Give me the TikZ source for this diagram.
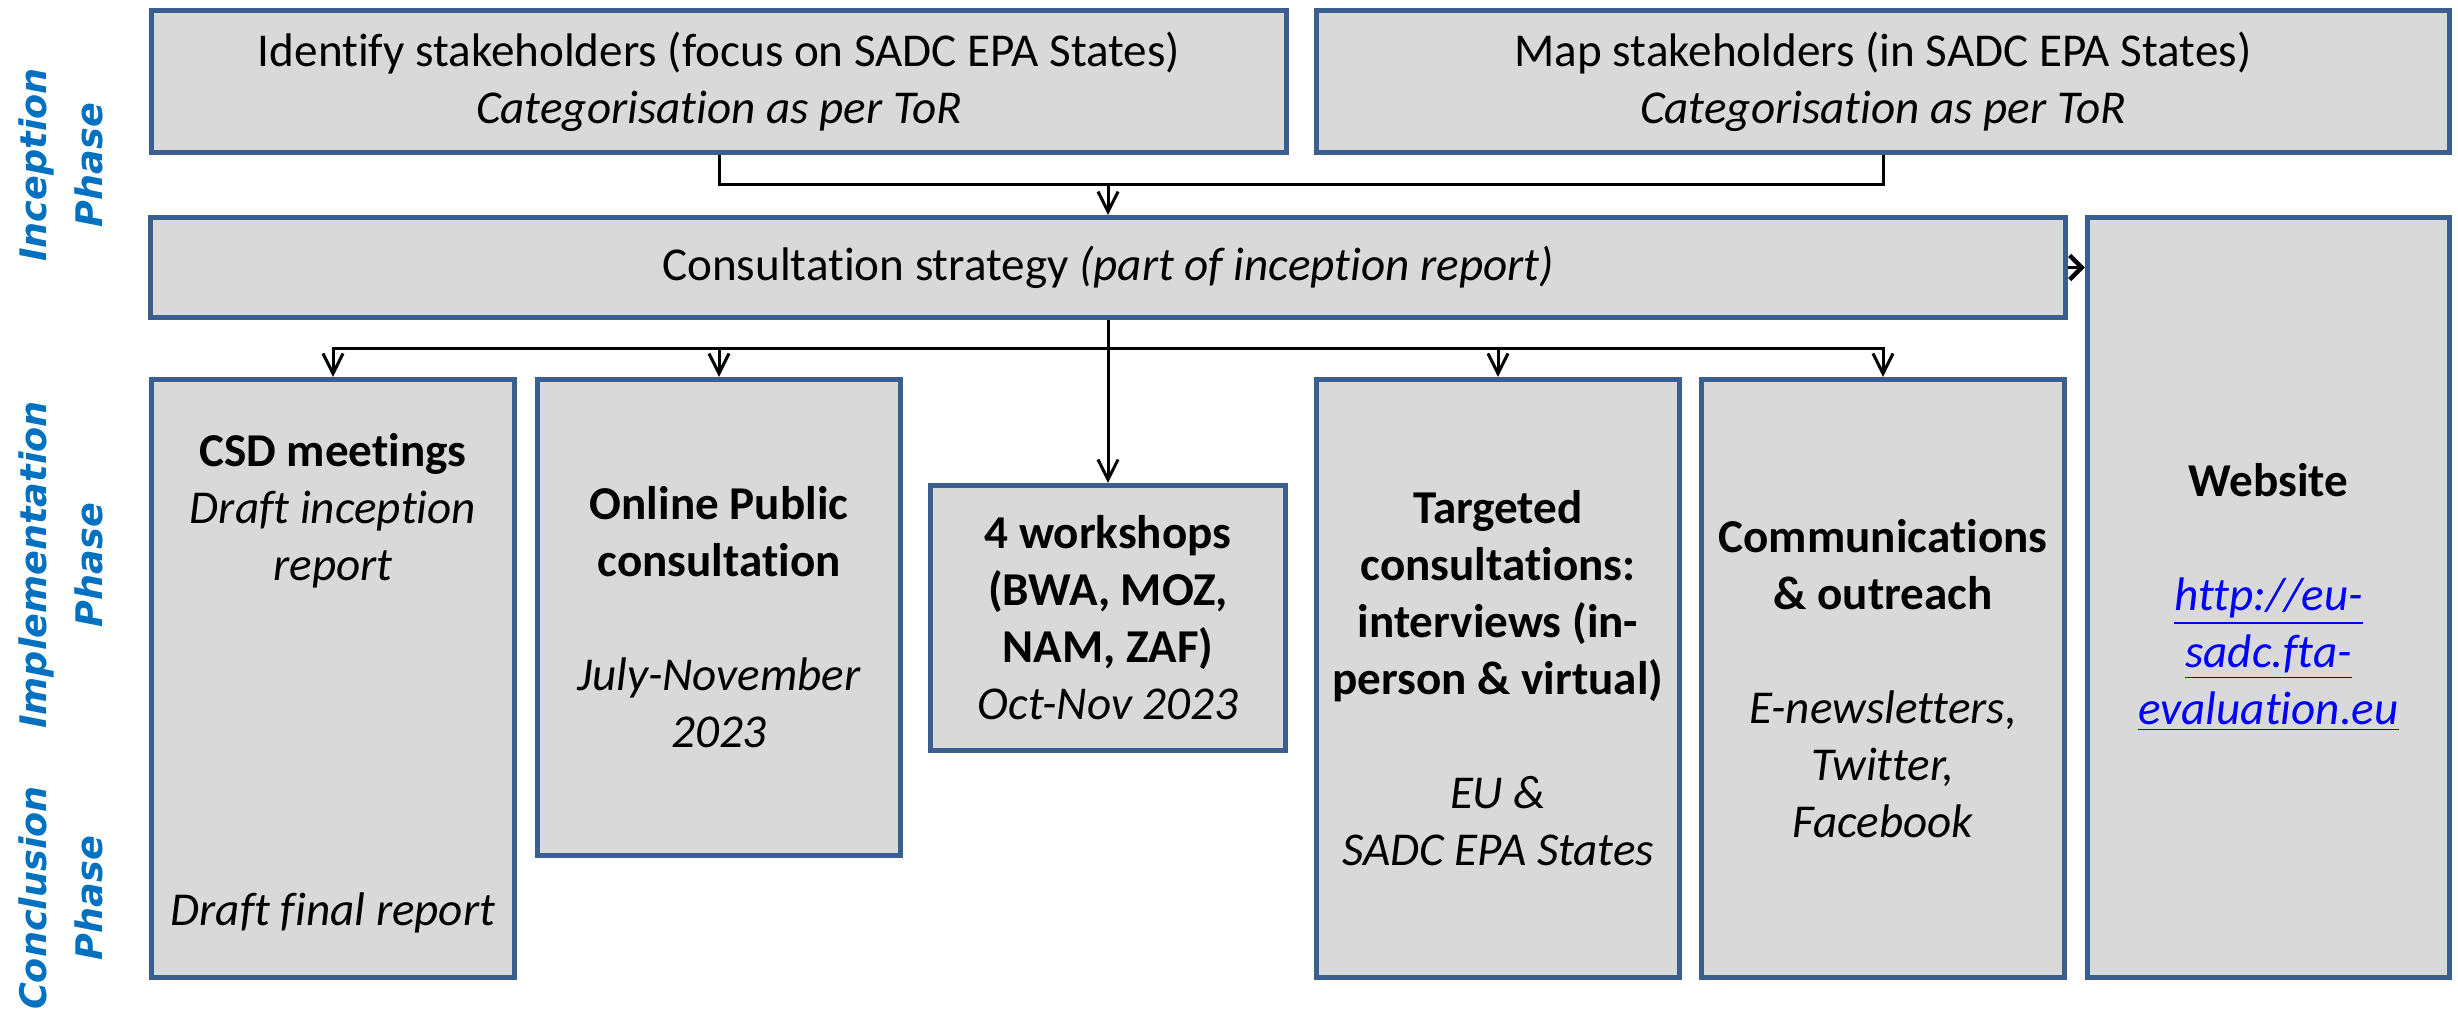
\documentclass[tikz,border=0pt]{standalone}
\usepackage{fontspec}
\setmainfont{Carlito}[Ligatures=NoCommon]
\newfontfamily\phasefont{DejaVu Sans}
\usetikzlibrary{arrows.meta}
\definecolor{boxfill}{HTML}{D9D9D9}
\definecolor{boxline}{HTML}{3A5F8E}
\definecolor{phaseblue}{HTML}{0070C0}
\definecolor{linkblue}{HTML}{0000FF}
\tikzset{
  box/.style={draw=boxline, fill=boxfill, line width=0.05cm, inner sep=0pt, align=center,
    font=\fontsize{13.4pt}{16.2pt}\selectfont},
  txt/.style={inner sep=0pt, align=center, font=\fontsize{13.4pt}{16.2pt}\selectfont},
  phase/.style={rotate=90, inner sep=0pt, align=center, text=phaseblue,
    font=\phasefont\bfseries\itshape\fontsize{10.4pt}{15.9pt}\selectfont},
  arr/.style={line width=0.03cm, -{Straight Barb[length=0.2cm,width=0.2cm]}},
  arrs/.style={line width=0.03cm, -{Straight Barb[length=0.12cm,width=0.24cm,line width=0.045cm]}},
  conn/.style={line width=0.03cm}
}
\begin{document}
\begin{tikzpicture}[x=0.01cm,y=-0.01cm]
\clip (0,0) rectangle (2458,1009);
\fill[white] (0,0) rectangle (2458,1009);

% phase labels
\node[phase] (ph1) at (61,165) {Inception\\Phase};
\node[phase] (ph2) at (61,565) {Implementation\\Phase};
\node[phase] (ph3) at (61,898) {Conclusion\\Phase};

% top boxes
\node[box, minimum width=11.35cm, minimum height=1.42cm] (id) at (719,81.5)
  {Identify stakeholders (focus on SADC EPA States)\\\textit{Categorisation as per ToR}};
\node[box, minimum width=11.33cm, minimum height=1.42cm] (map) at (1883,81.5)
  {Map stakeholders (in SADC EPA States)\\\textit{Categorisation as per ToR}};

% consultation strategy
\node[box, minimum width=19.13cm, minimum height=1.00cm] (cons) at (1108,267.5)
  {Consultation strategy \textit{(part of inception report)}};

% website
\node[box, minimum width=3.62cm, minimum height=7.60cm] (web) at (2268.5,597.5)
  {\textbf{Website}\\[0.57cm]
   \textcolor{linkblue}{\underline{\textit{http://eu-}}}\\
   \textcolor{linkblue}{\underline{\textit{sadc.fta-}}}\\
   \textcolor{linkblue}{\underline{\textit{evaluation.eu}}}};

% lower boxes
\node[box, minimum width=3.63cm, minimum height=5.98cm] (csd) at (333,678.5) {};
\node[txt] (csdt) at (333,511) {\textbf{CSD meetings}\\\textit{Draft inception}\\\textit{report}};
\node[txt] (csdb) at (333,913) {\textit{Draft final report}};

\node[box, minimum width=3.63cm, minimum height=4.76cm] (onl) at (719,617.5)
  {\textbf{Online Public}\\\textbf{consultation}\\[0.57cm]\textit{July-November}\\\textit{2023}};

\node[box, minimum width=3.55cm, minimum height=2.65cm] (ws) at (1108,618)
  {\textbf{4 workshops}\\\textbf{(BWA, MOZ,}\\\textbf{NAM, ZAF)}\\\textit{Oct-Nov 2023}};

\node[box, minimum width=3.63cm, minimum height=5.98cm] (tgt) at (1498,678.5)
  {\textbf{Targeted}\\\textbf{consultations:}\\\textbf{interviews (in-}\\\textbf{person \& virtual)}\\[0.57cm]\textit{EU \&}\\\textit{SADC EPA States}};

\node[box, minimum width=3.63cm, minimum height=5.98cm] (com) at (1883,678.5)
  {\textbf{Communications}\\\textbf{\& outreach}\\[0.57cm]\textit{E-newsletters,}\\\textit{Twitter,}\\\textit{Facebook}};

% connectors top
\coordinate (tj) at (1108,184);
\draw[conn] (id.south) |- (tj);
\draw[conn] (map.south) |- (tj);
\draw[arr] (tj) -- (cons.north);

% connectors bottom
\coordinate (bj) at (1108,348);
\draw[arr] (cons.south) -- (ws.north);
\draw[arr] (bj) -| (csd.north);
\draw[arr] (bj) -| (onl.north);
\draw[arr] (bj) -| (tgt.north);
\draw[arr] (bj) -| (com.north);

% consultation to website
\draw[arrs] (cons.east) -- (web.west |- cons.east);
\end{tikzpicture}
\end{document}
